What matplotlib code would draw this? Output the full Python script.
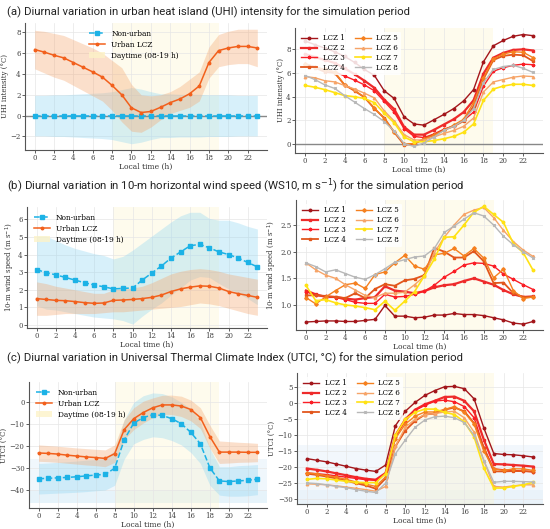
import numpy as np
import matplotlib
matplotlib.use("Agg")
from matplotlib import pyplot as plt
from matplotlib.patches import Patch

hours = list(range(24))
xticks = list(range(0, 24, 2))
lcz_names = ["LCZ 1", "LCZ 2", "LCZ 3", "LCZ 4", "LCZ 5", "LCZ 6", "LCZ 7", "LCZ 8"]

# (a) UHI intensity
uhi_nonurban = [0.0] * 24
uhi_nonurban_hi = [1.95, 1.95, 2.0, 2.0, 2.05, 2.1, 2.15, 2.2, 2.3, 2.5, 2.7, 2.55,
                   2.3, 2.1, 2.1, 2.05, 2.05, 2.05, 2.0, 2.0, 2.0, 1.95, 1.95, 1.95]
uhi_nonurban_lo = [-1.95, -1.95, -2.0, -2.0, -2.05, -2.1, -2.15, -2.2, -2.3, -2.5, -2.7, -2.55,
                   -2.3, -2.1, -2.1, -2.05, -2.05, -2.05, -2.0, -2.0, -2.0, -1.95, -1.95, -1.95]
uhi_urban = [6.35, 6.1, 5.8, 5.55, 5.1, 4.65, 4.2, 3.7, 2.9, 2.0, 0.75, 0.3,
             0.4, 0.8, 1.25, 1.6, 2.1, 2.85, 5.1, 6.25, 6.5, 6.65, 6.65, 6.5]
uhi_urban_hi = [8.2, 8.1, 7.9, 7.7, 7.3, 6.9, 6.5, 6.0, 5.3, 4.6, 3.0, 2.0,
                1.9, 2.0, 2.3, 2.8, 3.5, 4.2, 6.6, 7.8, 8.1, 8.3, 8.3, 8.3]
uhi_urban_lo = [4.5, 4.1, 3.7, 3.4, 2.9, 2.4, 1.9, 1.4, 0.5, -0.6, -1.5, -1.6,
                -1.1, -0.4, 0.2, 0.5, 0.8, 1.4, 3.6, 4.7, 4.9, 5.0, 5.0, 4.7]
uhi_lcz = [
    [8.7, 8.4, 8.1, 7.8, 7.4, 6.9, 6.3, 5.8, 4.5, 3.85, 2.3, 1.7, 1.6, 2.05, 2.5, 3.0, 3.65, 4.6, 6.95, 8.3, 8.75, 9.1, 9.25, 9.15],
    [7.6, 7.35, 7.1, 6.85, 6.4, 5.9, 5.35, 4.75, 3.75, 2.95, 1.45, 0.8, 0.8, 1.2, 1.65, 2.1, 2.7, 3.7, 5.95, 7.3, 7.7, 7.95, 8.0, 7.9],
    [6.75, 6.55, 6.25, 6.1, 5.75, 5.4, 5.0, 4.5, 3.6, 2.7, 1.3, 0.65, 0.55, 0.85, 1.25, 1.55, 2.0, 2.7, 4.9, 6.15, 6.45, 6.65, 6.75, 6.7],
    [6.7, 6.45, 6.1, 6.0, 5.0, 4.5, 3.95, 3.0, 2.2, 1.0, -0.05, 0.0, 0.45, 0.8, 1.2, 1.5, 1.95, 3.2, 5.5, 7.1, 7.45, 7.55, 7.5, 7.0],
    [6.8, 6.5, 6.3, 6.1, 5.0, 4.55, 3.95, 3.05, 2.15, 1.05, 0.0, 0.05, 0.4, 0.75, 1.15, 1.6, 2.1, 3.5, 5.6, 7.2, 7.6, 7.8, 7.75, 7.3],
    [5.7, 5.6, 5.35, 5.25, 4.95, 4.65, 4.3, 3.9, 2.8, 1.95, 0.8, 0.35, 0.35, 0.6, 0.9, 1.15, 1.5, 2.2, 4.4, 5.25, 5.45, 5.65, 5.75, 5.7],
    [4.95, 4.8, 4.6, 4.35, 4.1, 4.0, 3.85, 3.5, 2.6, 1.8, 0.6, 0.2, 0.2, 0.3, 0.45, 0.65, 1.0, 1.7, 3.7, 4.65, 4.9, 5.05, 5.05, 4.95],
    [5.8, 5.45, 5.0, 4.7, 4.1, 3.55, 3.0, 2.5, 1.9, 1.1, 0.05, -0.2, 0.1, 0.6, 1.15, 1.5, 2.0, 3.0, 5.2, 6.3, 6.55, 6.65, 6.4, 6.05],
]

# (b) 10-m wind speed
ws_nonurban = [3.15, 2.97, 2.85, 2.7, 2.55, 2.4, 2.27, 2.17, 2.05, 2.08, 2.1, 2.55,
               2.95, 3.35, 3.8, 4.15, 4.5, 4.58, 4.38, 4.15, 4.0, 3.8, 3.55, 3.3]
ws_nonurban_hi = [5.05, 5.05, 4.8, 4.55, 4.35, 4.2, 4.05, 3.95, 3.75, 3.9, 4.25, 4.65,
                  5.05, 5.45, 5.85, 6.2, 6.4, 6.4, 6.05, 5.95, 5.95, 5.8, 5.6, 5.45]
ws_nonurban_lo = [1.1, 0.9, 0.85, 0.75, 0.65, 0.55, 0.45, 0.4, 0.35, 0.25, 0.05, 0.5,
                  0.9, 1.25, 1.7, 2.1, 2.55, 2.75, 2.7, 2.35, 2.05, 1.8, 1.5, 1.15]
ws_urban = [1.5, 1.45, 1.4, 1.38, 1.33, 1.27, 1.23, 1.25, 1.4, 1.42, 1.45, 1.5,
            1.57, 1.7, 1.9, 2.05, 2.15, 2.22, 2.2, 2.1, 1.9, 1.78, 1.68, 1.57]
ws_urban_hi = [2.45, 2.35, 2.2, 2.1, 2.0, 1.9, 1.8, 1.8, 2.0, 2.05, 2.1, 2.2,
               2.4, 2.65, 2.9, 3.05, 3.15, 3.2, 3.15, 3.05, 2.9, 2.8, 2.7, 2.6]
ws_urban_lo = [0.55, 0.55, 0.6, 0.65, 0.65, 0.65, 0.65, 0.7, 0.75, 0.75, 0.8, 0.85,
               0.9, 0.95, 1.0, 1.05, 1.15, 1.25, 1.2, 1.1, 0.95, 0.8, 0.65, 0.55]
ws_lcz = [
    [0.68, 0.69, 0.7, 0.7, 0.69, 0.69, 0.71, 0.73, 0.99, 0.79, 0.79, 0.76, 0.77, 0.81, 0.81, 0.84, 0.82, 0.82, 0.8, 0.76, 0.72, 0.66, 0.64, 0.69],
    [1.27, 1.2, 1.15, 1.15, 1.12, 1.1, 1.13, 1.15, 1.35, 1.27, 1.25, 1.22, 1.26, 1.33, 1.37, 1.39, 1.45, 1.5, 1.44, 1.38, 1.28, 1.2, 1.15, 1.16],
    [1.25, 1.18, 1.16, 1.14, 1.1, 1.05, 1.03, 1.03, 1.2, 1.15, 1.16, 1.2, 1.26, 1.37, 1.52, 1.63, 1.75, 1.79, 1.78, 1.73, 1.58, 1.48, 1.38, 1.29],
    [1.18, 1.18, 1.17, 1.15, 1.13, 1.22, 1.13, 1.3, 1.39, 1.36, 1.46, 1.49, 1.56, 2.07, 2.0, 1.89, 1.89, 2.01, 1.82, 1.41, 1.42, 1.22, 1.15, 1.15],
    [1.14, 1.02, 1.15, 1.27, 1.38, 1.41, 1.31, 1.57, 1.62, 1.79, 1.93, 1.73, 1.67, 1.94, 1.97, 2.06, 1.92, 2.06, 1.88, 1.51, 1.67, 1.27, 1.12, 1.15],
    [1.79, 1.66, 1.56, 1.5, 1.38, 1.28, 1.18, 1.14, 1.22, 1.22, 1.24, 1.38, 1.54, 1.98, 2.27, 2.5, 2.7, 2.78, 2.83, 2.64, 2.4, 2.19, 2.03, 1.91],
    [1.37, 1.08, 1.1, 1.04, 1.0, 0.98, 0.95, 0.91, 1.07, 0.9, 1.07, 1.25, 1.55, 1.86, 2.27, 2.28, 2.5, 2.74, 2.85, 2.7, 2.55, 2.15, 1.98, 1.65],
    [1.79, 1.72, 1.62, 1.66, 1.59, 1.52, 1.48, 1.57, 1.68, 1.8, 1.85, 1.9, 1.92, 2.06, 2.36, 2.48, 2.61, 2.73, 2.67, 2.5, 2.29, 2.13, 2.0, 1.88],
]

# (c) UTCI
utci_nonurban = [-35.0, -34.8, -34.6, -34.4, -34.1, -33.7, -33.3, -33.0, -30.2, -17.2, -9.5, -7.0,
                 -5.7, -6.0, -7.5, -9.8, -13.8, -19.0, -30.0, -36.0, -36.3, -36.0, -35.7, -35.2]
utci_nonurban_hi = [-28.0, -27.8, -27.5, -27.2, -26.9, -26.5, -26.2, -25.8, -22.0, -8.0, 0.0, 3.0,
                    4.3, 4.0, 2.5, 0.0, -3.0, -9.0, -21.0, -29.5, -29.5, -29.0, -28.8, -28.5]
utci_nonurban_lo = [-42.0, -41.8, -41.6, -41.4, -41.2, -40.9, -40.5, -40.2, -38.0, -26.0, -19.0, -17.0,
                    -15.8, -16.2, -17.5, -19.5, -23.0, -28.0, -38.0, -42.5, -43.0, -43.0, -42.8, -42.3]
utci_urban = [-23.2, -23.4, -23.7, -24.2, -24.6, -25.0, -25.3, -25.7, -23.5, -12.5, -7.5, -4.7,
              -2.5, -1.2, -1.2, -1.7, -3.3, -7.0, -15.7, -22.8, -22.8, -22.8, -22.9, -22.9]
utci_urban_hi = [-19.5, -19.8, -20.1, -20.5, -20.9, -21.2, -21.5, -21.8, -19.5, -8.0, -2.5, 0.5,
                 2.0, 3.2, 3.3, 2.8, 1.0, -2.5, -10.5, -17.7, -18.0, -18.3, -18.5, -18.8]
utci_urban_lo = [-27.0, -27.2, -27.5, -27.9, -28.3, -28.7, -29.0, -29.5, -27.5, -17.0, -12.5, -9.5,
                 -7.0, -5.5, -5.6, -6.5, -8.5, -12.0, -21.0, -28.0, -27.8, -27.5, -27.4, -27.2]
utci_lcz = [
    [-17.3, -17.8, -18.3, -19.0, -19.7, -20.4, -20.9, -21.3, -19.3, -7.0, -2.5, 0.3, 2.5, 4.0, 5.2, 5.3, 4.6, 1.4, -7.8, -15.7, -16.0, -16.1, -16.4, -16.8],
    [-20.4, -20.8, -21.3, -21.9, -22.5, -23.1, -23.6, -23.9, -21.8, -10.0, -5.0, -2.0, -0.3, 0.8, 2.0, 2.1, 0.8, -2.5, -11.5, -19.0, -19.1, -19.3, -19.5, -19.8],
    [-21.8, -22.0, -22.3, -22.7, -23.1, -23.5, -23.9, -24.1, -22.0, -10.5, -5.5, -2.2, -0.6, 0.7, 1.0, 0.5, -1.0, -4.5, -14.0, -20.5, -20.8, -21.0, -21.2, -21.4],
    [-22.0, -22.4, -22.9, -23.5, -24.2, -25.0, -25.7, -26.7, -23.5, -13.5, -8.5, -5.5, -3.5, -3.2, -2.0, -1.3, -2.5, -6.2, -14.0, -21.3, -21.3, -21.2, -21.2, -21.4],
    [-21.7, -22.1, -22.6, -23.1, -23.8, -24.6, -25.3, -26.0, -23.0, -11.0, -6.5, -4.0, -2.7, -2.7, -1.9, -1.0, -2.8, -6.5, -15.0, -20.5, -21.0, -20.5, -20.5, -21.0],
    [-25.2, -25.3, -25.5, -25.8, -26.2, -26.6, -27.0, -27.5, -26.0, -13.5, -7.5, -5.0, -3.5, -3.2, -2.7, -2.5, -4.5, -9.0, -18.0, -26.0, -26.2, -25.8, -25.5, -25.5],
    [-23.8, -23.5, -23.6, -24.0, -24.4, -24.7, -24.8, -24.8, -22.0, -10.0, -5.0, -2.8, -1.8, -1.8, -2.8, -3.5, -5.8, -10.5, -20.3, -26.5, -26.5, -26.0, -25.5, -24.7],
    [-24.9, -25.1, -25.5, -26.0, -26.4, -27.0, -27.5, -27.9, -25.0, -15.8, -11.5, -7.5, -5.2, -4.2, -4.0, -4.5, -6.0, -10.0, -18.0, -24.7, -24.4, -24.4, -24.5, -24.6],
]

blue = "#1cb2e6"
orange = "#f2601c"
day_col = "#fdf3c8"
lcz_colors = ["#a3161b", "#ee2b2b", "#fa1e26", "#e2561c", "#f5801f", "#f6a468", "#ffe214", "#b8b8b8"]
lcz_markers = ["o", "s", "P", "s", "D", "^", "o", "x"]
lcz_lw = [1.0, 1.6, 1.0, 1.3, 1.0, 1.0, 1.2, 1.0]

plt.rcParams["font.family"] = ["DejaVu Serif"]
fig = plt.figure(figsize=(5.5, 5.29), dpi=100)


def style(ax, ylabel):
    ax.set_xlim(-1, 24)
    ax.set_xticks(xticks)
    ax.grid(True, color="#e6e6e6", lw=0.5)
    ax.set_axisbelow(True)
    for s in ["top", "right"]:
        ax.spines[s].set_visible(False)
    for s in ["left", "bottom"]:
        ax.spines[s].set_color("#555555")
        ax.spines[s].set_linewidth(0.8)
    ax.tick_params(labelsize=5, length=2, width=0.6, colors="#444444", pad=1.2)
    ax.set_xlabel("Local time (h)", fontsize=5.5, labelpad=0.5, color="#333333")
    ax.set_ylabel(ylabel, fontsize=5, labelpad=1, color="#333333")
    ax.axvspan(8, 19, color=day_col, alpha=0.32, lw=0, zorder=0)


def left_panel(ax, nu, nu_hi, nu_lo, ur, ur_hi, ur_lo, ylabel, loc, anchor):
    style(ax, ylabel)
    ax.fill_between(hours, nu_lo, nu_hi, color="#8fd6f2", alpha=0.35, lw=0)
    ax.fill_between(hours, ur_lo, ur_hi, color="#f5a56c", alpha=0.35, lw=0)
    ax.plot(hours, nu, color=blue, ls="--", lw=1.1, marker="s", ms=2.2, label="Non-urban")
    ax.plot(hours, ur, color=orange, lw=1.1, marker="o", ms=1.8, label="Urban LCZ")
    h, l = ax.get_legend_handles_labels()
    h.append(Patch(facecolor=day_col, alpha=0.8, edgecolor="none"))
    l.append("Daytime (08-19 h)")
    ax.legend(h, l, loc=loc, bbox_to_anchor=anchor, frameon=False, fontsize=5.3,
              handlelength=2.2, labelspacing=0.4)


def right_panel(ax, series, ylabel):
    style(ax, ylabel)
    for i in range(8):
        ax.plot(hours, series[i], color=lcz_colors[i], lw=lcz_lw[i], marker=lcz_markers[i],
                ms=1.8, label=lcz_names[i])
    ax.legend(loc="upper left", ncol=2, frameon=True, facecolor="white", edgecolor="none",
              framealpha=0.85, fontsize=5.1, handlelength=2.2,
              labelspacing=0.25, columnspacing=1.5)


W, H = 550.0, 529.0


def box(x0, y0, x1, y1):
    return [x0 / W, 1 - y1 / H, (x1 - x0) / W, (y1 - y0) / H]


ax1 = fig.add_axes(box(25, 23, 267, 150))
ax2 = fig.add_axes(box(295, 28, 543, 153))
ax3 = fig.add_axes(box(27, 207, 267, 328))
ax4 = fig.add_axes(box(296, 200, 543, 330))
ax5 = fig.add_axes(box(29, 382, 267, 508))
ax6 = fig.add_axes(box(297, 373, 543, 504))

# (a)
left_panel(ax1, uhi_nonurban, uhi_nonurban_hi, uhi_nonurban_lo, uhi_urban, uhi_urban_hi,
           uhi_urban_lo, "UHI intensity (°C)", "upper center", (0.45, 1.0))
ax1.axhline(0, color="#888888", lw=1, zorder=1)
ax1.set_ylim(-3.3, 8.9)
ax1.set_yticks([-2, 0, 2, 4, 6, 8])
right_panel(ax2, uhi_lcz, "UHI intensity (°C)")
ax2.axhline(0, color="#888888", lw=1, zorder=1)
ax2.set_ylim(-0.75, 9.8)
ax2.set_yticks([0, 2, 4, 6, 8])

# (b)
left_panel(ax3, ws_nonurban, ws_nonurban_hi, ws_nonurban_lo, ws_urban, ws_urban_hi,
           ws_urban_lo, "10-m wind speed (m s$^{-1}$)", "upper left", (0.0, 1.0))
ax3.set_ylim(-0.17, 6.7)
ax3.set_yticks(range(7))
right_panel(ax4, ws_lcz, "10-m wind speed (m s$^{-1}$)")
ax4.set_ylim(0.53, 2.97)
ax4.set_yticks([1.0, 1.5, 2.0, 2.5])

# (c)
ax5.axhspan(-46, -40, color="#d6ebf7", alpha=0.6, lw=0, zorder=0)
ax5.axhspan(-40, -26, color="#e6f2fa", alpha=0.6, lw=0, zorder=0)
left_panel(ax5, utci_nonurban, utci_nonurban_hi, utci_nonurban_lo, utci_urban, utci_urban_hi,
           utci_urban_lo, "UTCI (°C)", "upper left", (0.0, 1.0))
ax5.set_ylim(-48.4, 9.3)
ax5.set_yticks([-40, -30, -20, -10, 0])
ax6.axhspan(-31.5, -27, color="#dcecf7", alpha=0.6, lw=0, zorder=0)
ax6.axhspan(-27, -13, color="#eaf3fa", alpha=0.6, lw=0, zorder=0)
right_panel(ax6, utci_lcz, "UTCI (°C)")
ax6.set_ylim(-31.5, 9.5)
ax6.set_yticks([-30, -25, -20, -15, -10, -5, 0, 5])

tfont = dict(fontsize=8.2, family=["Roboto", "DejaVu Sans"], color="#222222")
fig.text(7 / W, 1 - 12 / H, "(a) Diurnal variation in urban heat island (UHI) intensity for the simulation period",
         va="center", **tfont)
fig.text(7 / W, 1 - 186 / H, "(b) Diurnal variation in 10-m horizontal wind speed (WS10, m s$^{-1}$) for the simulation period",
         va="center", **tfont)
fig.text(7 / W, 1 - 358 / H, "(c) Diurnal variation in Universal Thermal Climate Index (UTCI, °C) for the simulation period",
         va="center", **tfont)

fig.savefig("out.png", dpi=100)
